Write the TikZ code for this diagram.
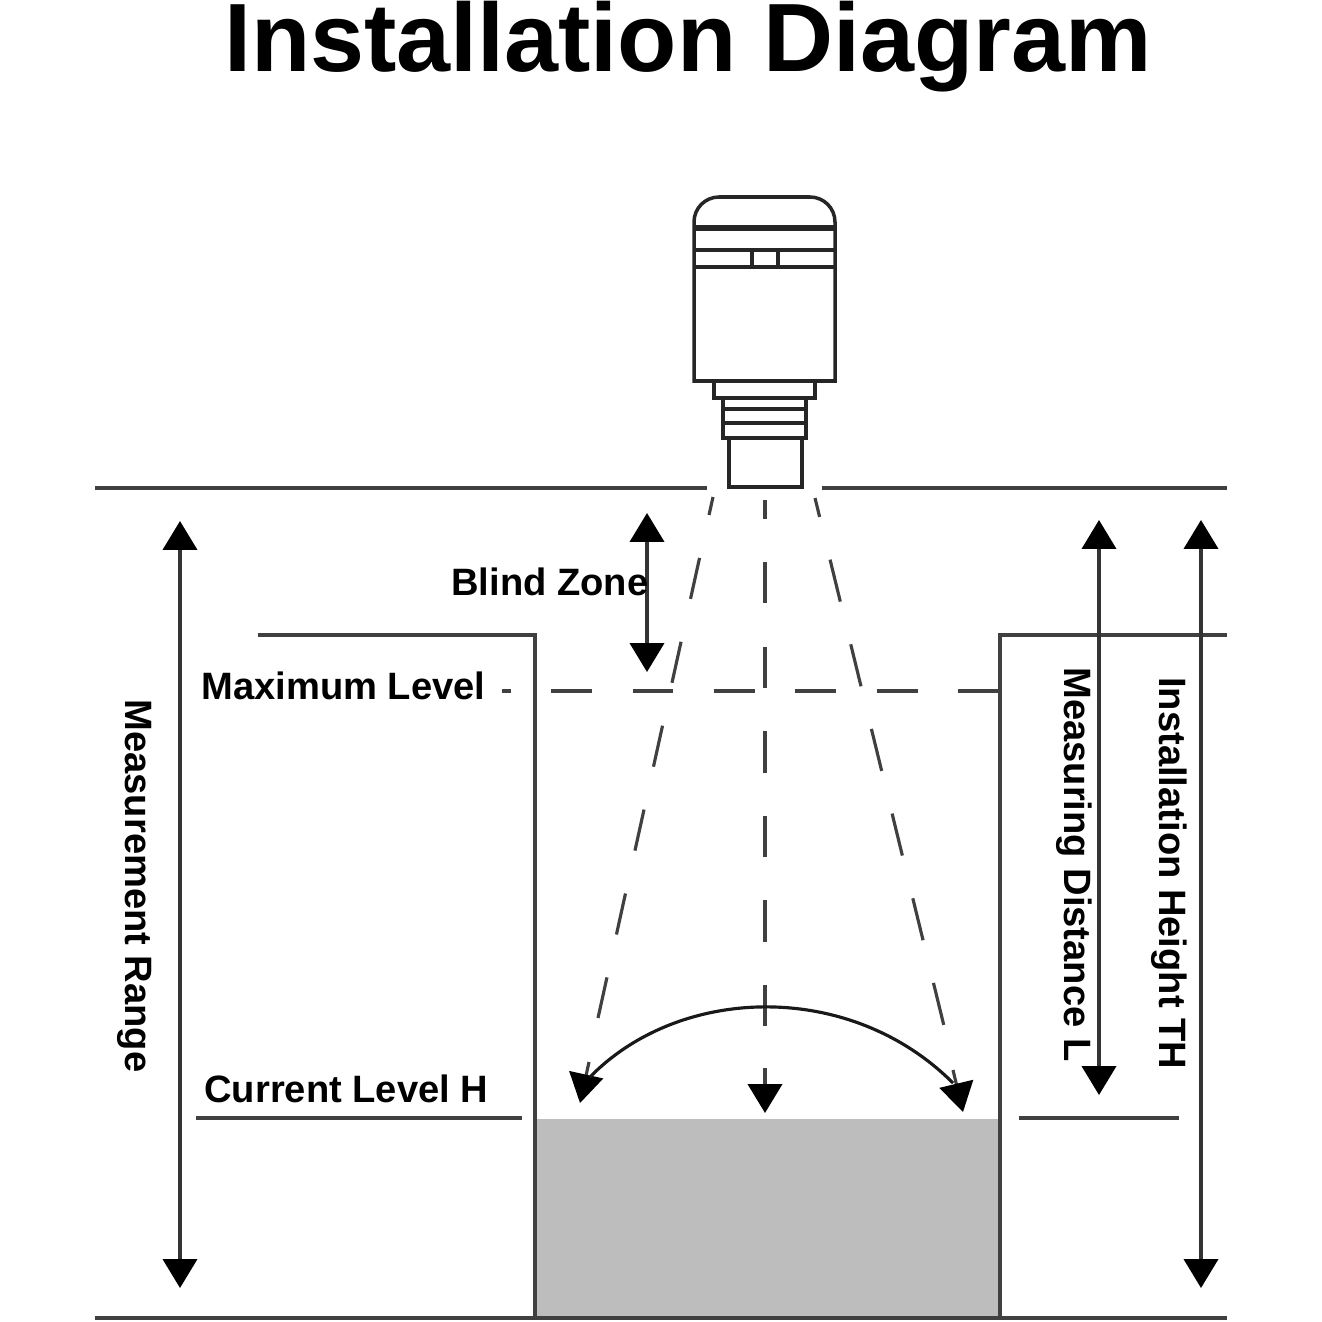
\documentclass[tikz,border=0pt]{standalone}
\usepackage{fontspec}
\setmainfont{Liberation Sans}
\usetikzlibrary{arrows.meta}
\tikzset{
    thinline/.style={line width=1.8pt, draw=black!75},
    wall/.style={line width=2pt, draw=black!75},
    sensor/.style={line width=2pt, draw=black!85},
    beam/.style={line width=1.8pt, draw=black!75},
    bigtip/.tip={Triangle[length=16.5pt,width=19.5pt,color=black]},
    dimarrow/.style={line width=1.8pt, draw=black!80, bigtip-bigtip},
    beamarrow/.style={line width=1.8pt, draw=black!75, -bigtip},
    label/.style={font=\bfseries\fontsize{21.7}{26}\selectfont, inner sep=0pt},
    sidelabel/.style={label, rotate=-90}
}
\begin{document}
\begin{tikzpicture}[x=0.02cm,y=-0.02cm]
    \useasboundingbox (0,0) rectangle (1322,1322);

    \node[font=\bfseries\fontsize{55.25}{60}\selectfont, inner sep=0pt] (title) at (688,47) {Installation Diagram};

    % liquid and tank
    \fill[black!26] (537,1119) rectangle (998,1316);
    \draw[thinline] (95,488) -- (707,488);
    \draw[thinline] (822,488) -- (1227,488);
    \draw[wall] (258,635) -- (535,635) -- (535,1318);
    \draw[wall] (1227,635) -- (1000,635) -- (1000,1318);
    \draw[wall] (95,1318) -- (1227,1318);
    \draw[thinline] (196,1118) -- (522,1118);
    \draw[thinline] (1019,1118) -- (1179,1118);

    % sensor
    \draw[sensor] (694,381) -- (694,222) arc (180:270:25) -- (810,197) arc (270:360:25) -- (835,381) -- cycle;
    \draw[line width=3pt, black!85] (694,228) -- (835,228);
    \draw[sensor] (694,250) -- (835,250);
    \draw[line width=2.5pt, black!85] (694,267) -- (835,267);
    \draw[sensor] (752,250) rectangle (778,267);
    \draw[sensor] (714,381) -- (714,398) -- (815,398) -- (815,381);
    \draw[sensor] (723,398) rectangle (806,438);
    \foreach \y in {409,423} {\draw[sensor] (723,\y) -- (806,\y);}
    \draw[sensor] (729,438) rectangle (802,487);

    % beams
    \draw[beam, dash pattern=on 23.9pt off 25pt, dash phase=13.4pt] (713,497) -- (598,1018);
    \draw[beam, dash pattern=on 23.6pt off 24.5pt, dash phase=12.8pt] (765,500) -- (765,1026);
    \draw[beam, dash pattern=on 24.6pt off 25pt, dash phase=13.5pt] (815,498) -- (944,1026);
    \draw[beam, dash pattern=on 23.3pt off 23pt, dash phase=18.3pt] (502,691) -- (1000,691);
    \draw[beamarrow] (589,1062) -- (580,1103);
    \draw[beamarrow] (765,1068) -- (765,1113);
    \draw[beamarrow] (953,1070) -- (963,1112);
    \draw[line width=1.8pt, black!90] (590,1077) .. controls (680,985) and (850,980) .. (953,1083);

    % dimensions
    \draw[dimarrow] (180,521) -- (180,1288);
    \draw[dimarrow] (647,513) -- (647,672);
    \draw[dimarrow] (1099,520) -- (1099,1095);
    \draw[dimarrow] (1201,520) -- (1201,1288);

    % labels
    \node[label, anchor=west] (blind) at (451,582) {Blind Zone};
    \node[label, anchor=west] (maxlevel) at (201,686) {Maximum Level};
    \node[label, anchor=west] (curlevel) at (204,1089) {Current Level H};
    \node[sidelabel] (range) at (135,886) {Measurement Range};
    \node[sidelabel, anchor=west] (distance) at (1074,667) {Measuring Distance L};
    \node[sidelabel, anchor=west] (height) at (1169,677) {Installation Height TH};
\end{tikzpicture}
\end{document}
